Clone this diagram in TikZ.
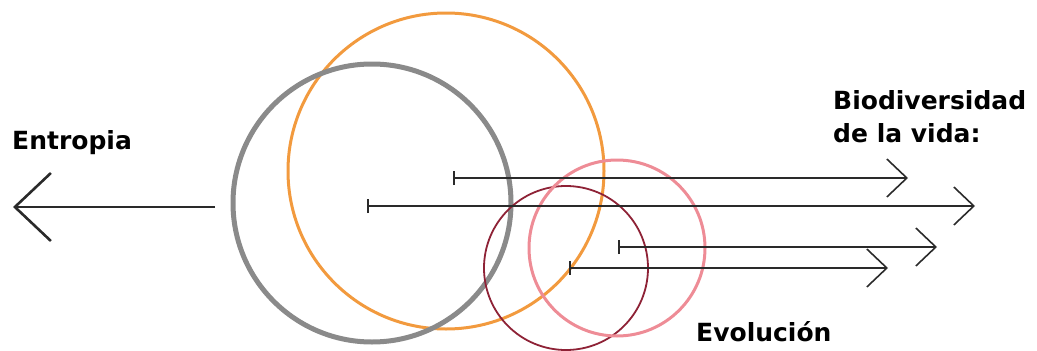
\documentclass[tikz,border=0pt]{standalone}
\usepackage{fontspec}
\setmainfont{DejaVu Sans}
\usetikzlibrary{arrows.meta}
\definecolor{cgray}{HTML}{8A8A8A}
\definecolor{corange}{HTML}{F29A3E}
\definecolor{cdred}{HTML}{8E2236}
\definecolor{cpink}{HTML}{EE8C96}
\definecolor{cline}{HTML}{2A2A2A}
\tikzset{
  lbl/.style={font=\bfseries\fontsize{25}{33}\selectfont, inner sep=0pt, anchor=base west, text=black},
  ring/.style={line width=#1},
  evoarrow/.style={draw=cline, line width=1.6pt,
    {Bar[width=14pt,line width=1.6pt]}-{Straight Barb[length=20pt,width=38pt,line width=1.6pt]}},
  entarrow/.style={draw=cline, line width=2.6pt,
    -{Straight Barb[length=36pt,width=68pt,line width=2.6pt]}}
}
\begin{document}
\begin{tikzpicture}[x=1pt,y=-1pt]
\useasboundingbox (0,0) rectangle (1037,351);
% circles
\draw[ring=3pt, corange] (446,171) circle (158);
\draw[ring=5pt, cgray] (372,203) circle (139);
\draw[ring=1.8pt, cdred] (566,268) circle (82);
\draw[ring=3pt, cpink] (617,248) circle (88);
% coordinates
\coordinate (es) at (215,207);
\coordinate (ee) at (13,207);
\coordinate (a1s) at (453,178);
\coordinate (a1e) at (908,178);
\coordinate (a2s) at (367,206);
\coordinate (a2e) at (975,206);
\coordinate (a3s) at (618,247);
\coordinate (a3e) at (937,247);
\coordinate (a4s) at (569,268);
\coordinate (a4e) at (888,268);
% arrows
\draw[entarrow] (es) -- (ee);
\draw[evoarrow] (a1s) -- (a1e);
\draw[evoarrow] (a2s) -- (a2e);
\draw[evoarrow] (a3s) -- (a3e);
\draw[evoarrow] (a4s) -- (a4e);
% labels
\node[lbl] (ent) at (12,149) {Entropia};
\node[lbl] (bio1) at (833,109) {Biodiversidad};
\node[lbl] (bio2) at (833,142) {de la vida:};
\node[lbl] (evo) at (696,341) {Evolución};
\end{tikzpicture}
\end{document}
